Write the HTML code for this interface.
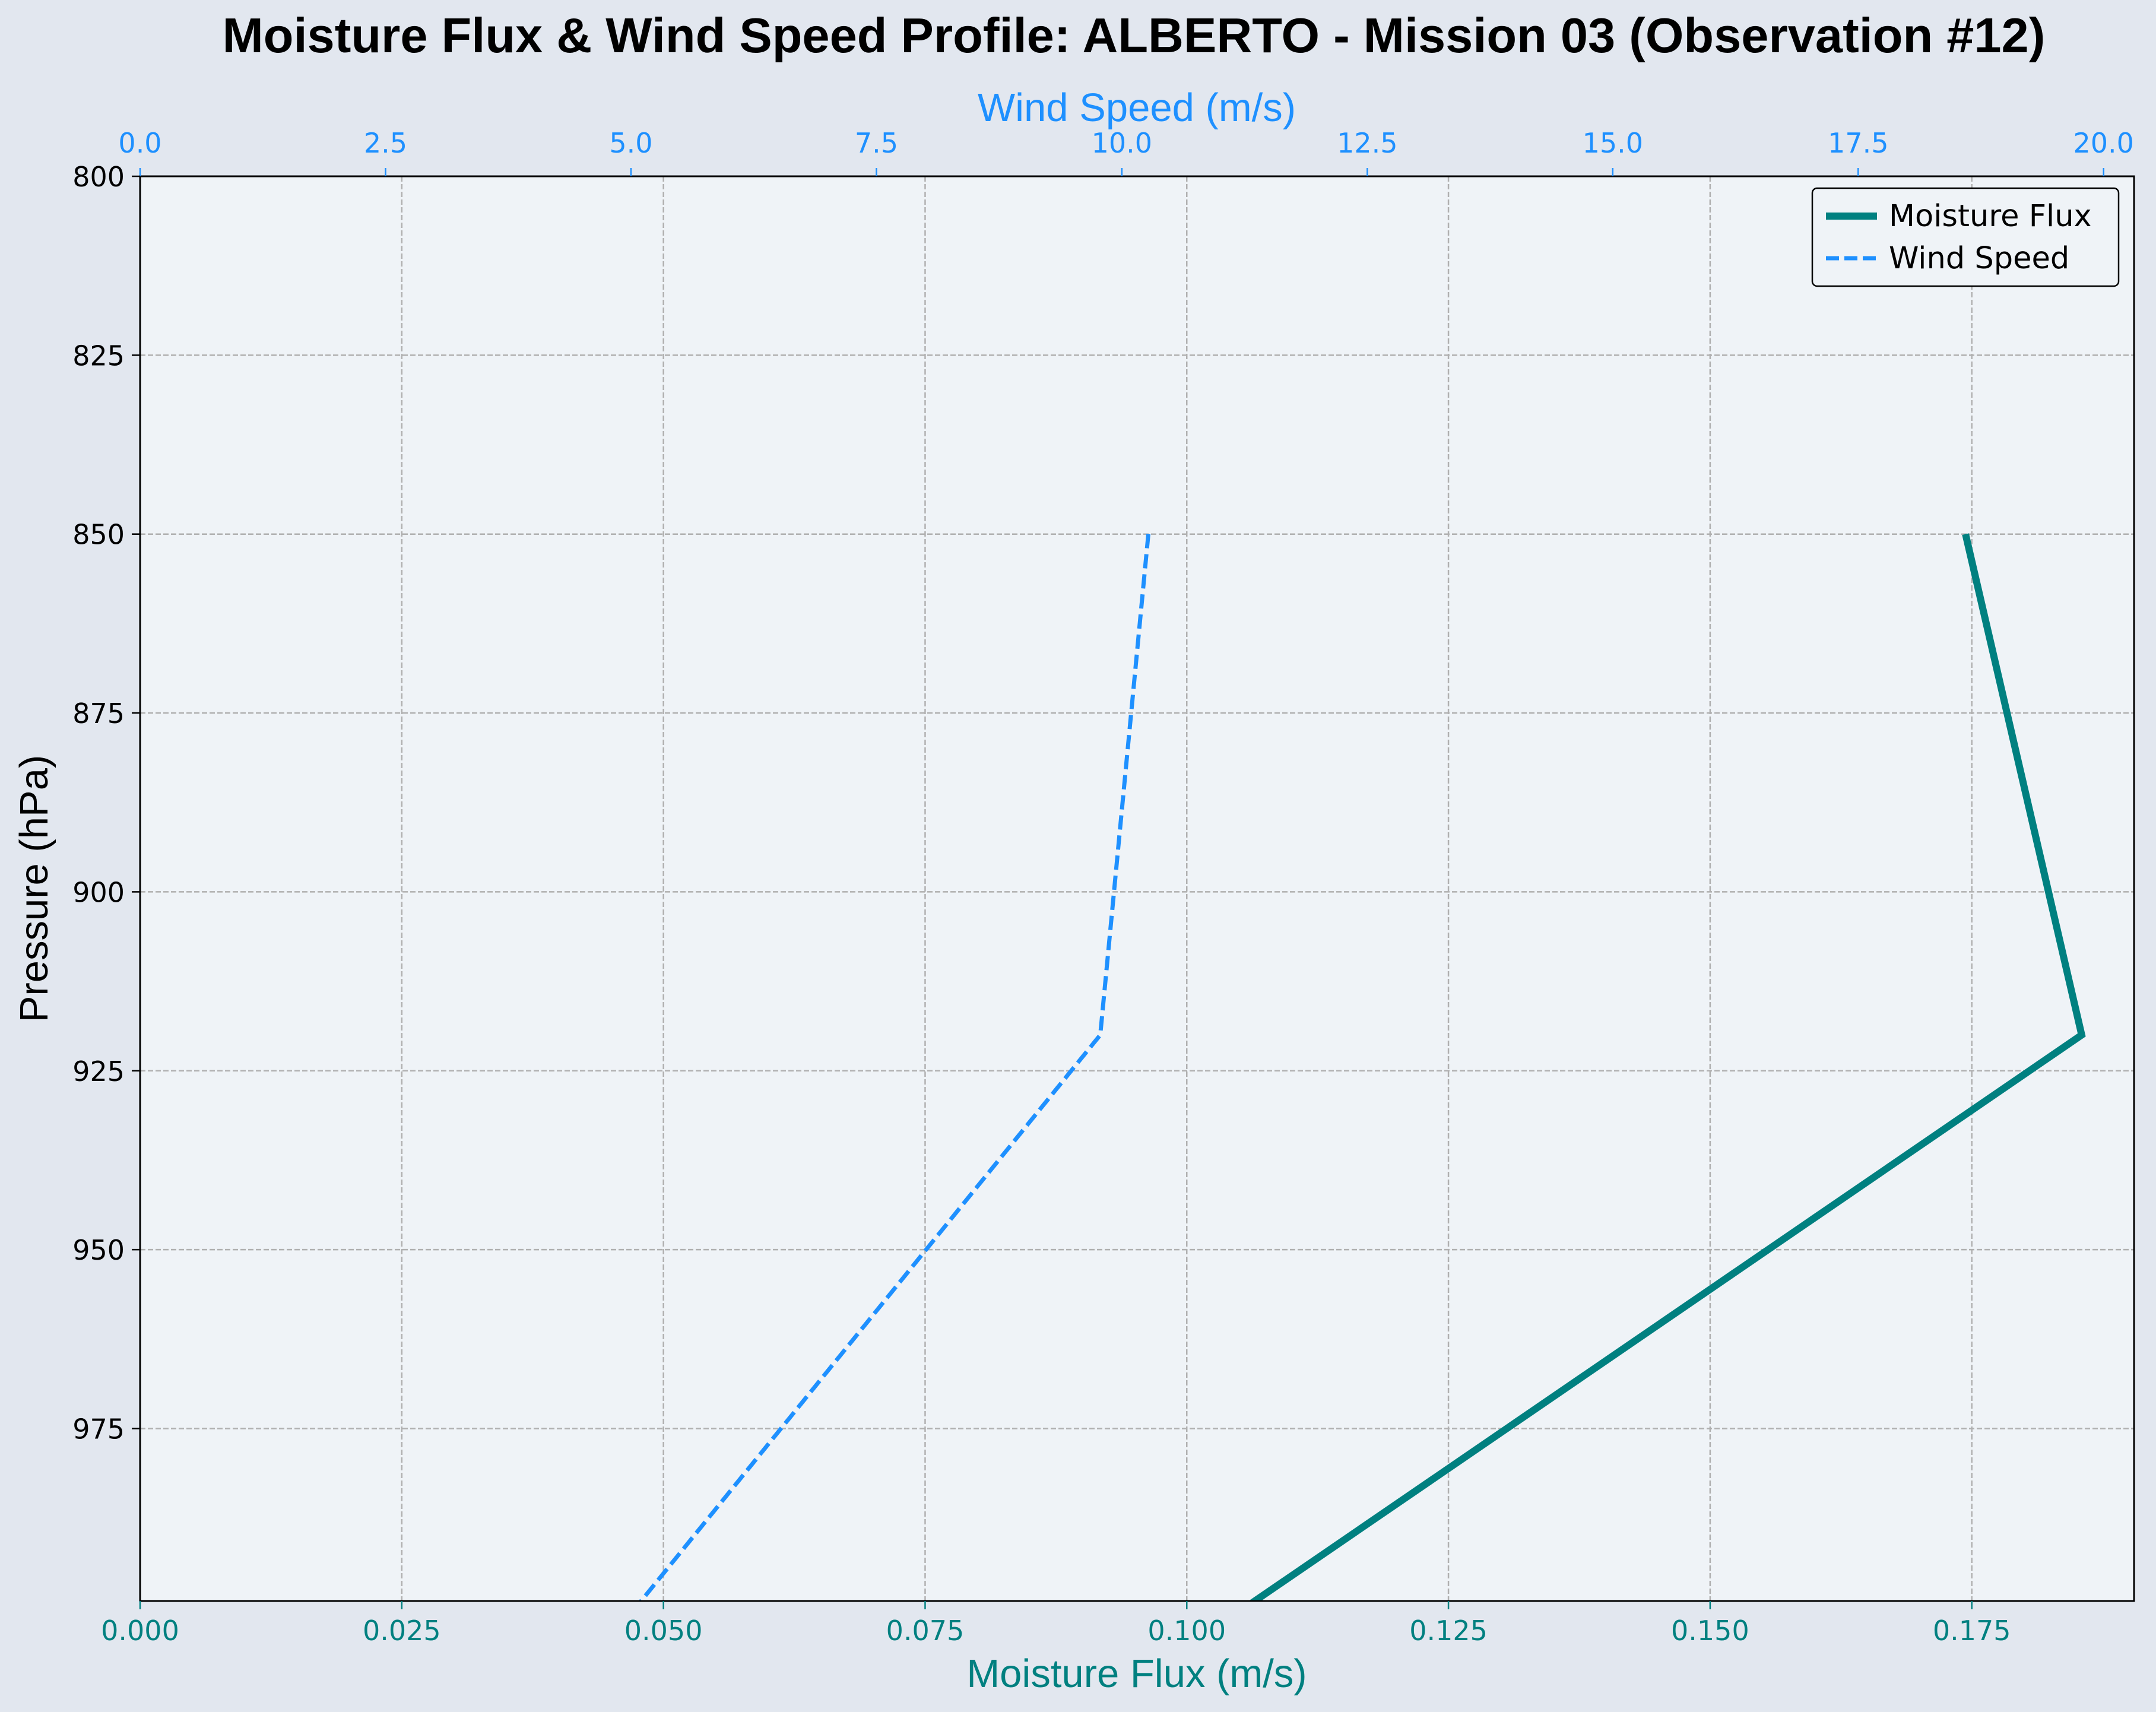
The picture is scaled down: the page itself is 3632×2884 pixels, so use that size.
<!DOCTYPE html>
<html><head><meta charset="utf-8"><style>
html,body{margin:0;padding:0;background:#e2e7ef;}
svg{display:block;font-family:"Liberation Sans",sans-serif;}
.tk{font-family:"DejaVu Sans","Liberation Sans",sans-serif;}
</style></head><body>
<svg id="chart" width="3632" height="2884" viewBox="0 0 3632 2884">
<rect x="0" y="0" width="3632" height="2884" fill="#e2e7ef"/>
<rect x="236" y="297" width="3359" height="2400" fill="#eff3f7"/>
<g id="grid"></g>
<g id="series"></g>
<rect x="236" y="297" width="3359" height="2400" fill="none" stroke="#000" stroke-width="3"/>
<g id="axes"></g>
<text x="1910" y="88" text-anchor="middle" font-size="83" font-weight="bold" fill="#000">Moisture Flux &amp; Wind Speed Profile: ALBERTO - Mission 03 (Observation #12)</text>
<text x="1915" y="204" text-anchor="middle" font-size="67" fill="#1e90ff">Wind Speed (m/s)</text>
<text x="1915" y="2842" text-anchor="middle" font-size="67" fill="#008080">Moisture Flux (m/s)</text>
<text transform="translate(80,1497) rotate(-90)" text-anchor="middle" font-size="67" fill="#000">Pressure (hPa)</text>
<g>
<rect x="3053" y="317" width="516" height="165" rx="8" fill="#eff3f7" stroke="#000" stroke-width="2.5"/>
<line x1="3076" y1="364" x2="3162" y2="364" stroke="#008080" stroke-width="12"/>
<text class="tk" x="3182" y="381" font-size="51" fill="#000">Moisture Flux</text>
<line x1="3076" y1="435" x2="3162" y2="435" stroke="#1e90ff" stroke-width="7" stroke-dasharray="22,9"/>
<text class="tk" x="3182" y="452" font-size="51" fill="#000">Wind Speed</text>
</g>
</svg>
<script>
const pressureLevels = [850, 920, 1000];
const moistureFlux = [0.1744, 0.1855, 0.1056];
const windSpeed = [10.27, 9.78, 5.05];
const fluxTicks = [0, 0.025, 0.05, 0.075, 0.1, 0.125, 0.15, 0.175];
const fluxTickLabels = ["0.000","0.025","0.050","0.075","0.100","0.125","0.150","0.175"];
const windTicks = [0, 2.5, 5, 7.5, 10, 12.5, 15, 17.5, 20];
const windTickLabels = ["0.0","2.5","5.0","7.5","10.0","12.5","15.0","17.5","20.0"];
const pressureTicks = [800, 825, 850, 875, 900, 925, 950, 975];

const L=236,R=3595,T=297,B=2697;
const fluxMax=0.1905, windMax=20.31, pMin=800, pMax=999.1;
const xF=v=>L+v/fluxMax*(R-L);
const xW=v=>L+v/windMax*(R-L);
const yP=p=>T+(p-pMin)/(pMax-pMin)*(B-T);
const NS="http://www.w3.org/2000/svg";
function mk(tag,attrs,parent,text){const e=document.createElementNS(NS,tag);for(const k in attrs)e.setAttribute(k,attrs[k]);if(text!==undefined)e.textContent=text;parent.appendChild(e);return e;}
const grid=document.getElementById('grid'),axes=document.getElementById('axes'),series=document.getElementById('series');
const defs=mk('defs',{},document.getElementById('chart'));
const cp=mk('clipPath',{id:'clip'},defs);mk('rect',{x:L,y:T,width:R-L,height:B-T},cp);
series.setAttribute('clip-path','url(#clip)');

fluxTicks.forEach((v,i)=>{
 const x=xF(v);
 const g=mk('line',{x1:x,y1:T,x2:x,y2:B,stroke:'#b0b0b0','stroke-width':2.5,'stroke-dasharray':'9,4'},grid);
 
 
 const t=mk('line',{x1:x,y1:B,x2:x,y2:B+14,stroke:'#008080','stroke-width':2.5},axes);
 
 
 const l=mk('text',{x:x,y:B+66,'text-anchor':'middle','font-size':46,fill:'#008080','class':'tk'},axes,fluxTickLabels[i]);
 
 
});
windTicks.forEach((v,i)=>{
 const x=xW(v);
 const t=mk('line',{x1:x,y1:T,x2:x,y2:T-14,stroke:'#1e90ff','stroke-width':2.5},axes);
 
 
 const l=mk('text',{x:x,y:T-40,'text-anchor':'middle','font-size':46,fill:'#1e90ff','class':'tk'},axes,windTickLabels[i]);
 
 
});
pressureTicks.forEach(p=>{
 const y=yP(p);
 const g=mk('line',{x1:L,y1:y,x2:R,y2:y,stroke:'#b0b0b0','stroke-width':2.5,'stroke-dasharray':'9,4'},grid);
 
 
 const t=mk('line',{x1:L,y1:y,x2:L-14,y2:y,stroke:'#000','stroke-width':2.5},axes);
 
 
 const l=mk('text',{x:L-26,y:y+17,'text-anchor':'end','font-size':46,fill:'#000','class':'tk'},axes,String(p));
 
 
});
const mPts=pressureLevels.map((p,i)=>xF(moistureFlux[i])+','+yP(p)).join(' ');
const m=mk('polyline',{points:mPts,fill:'none',stroke:'#008080','stroke-width':12,'stroke-linejoin':'miter'},series);


const wPts=pressureLevels.map((p,i)=>xW(windSpeed[i])+','+yP(p)).join(' ');
const w=mk('polyline',{points:wPts,fill:'none',stroke:'#1e90ff','stroke-width':7,'stroke-dasharray':'24,10'},series);


</script>
</body></html>
